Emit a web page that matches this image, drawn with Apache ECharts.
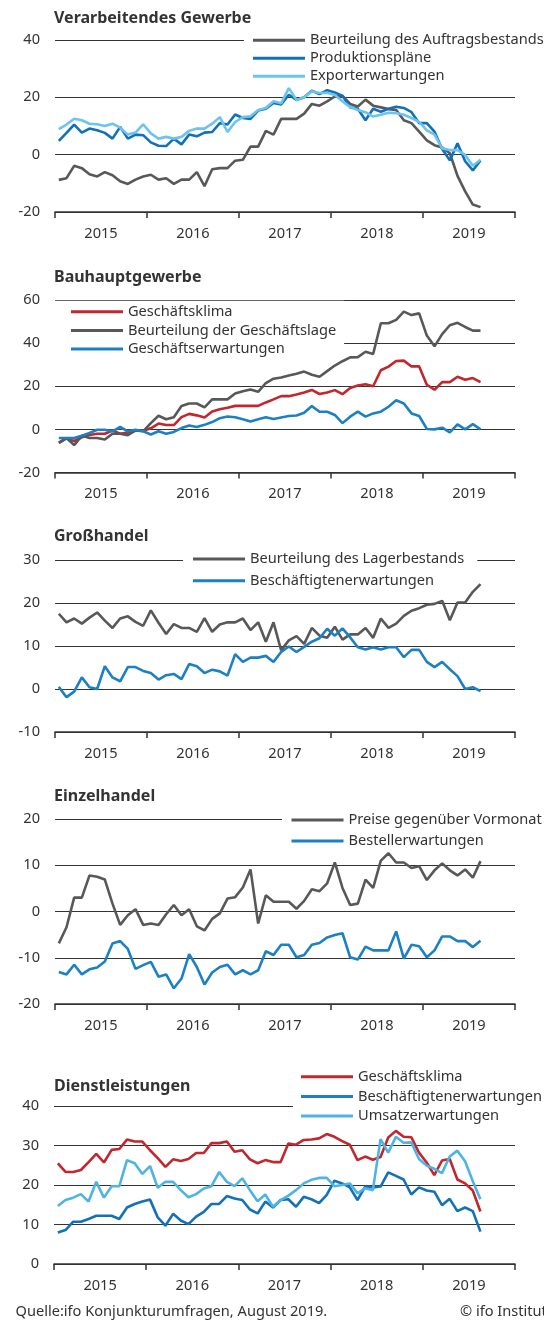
<!DOCTYPE html>
<html><head><meta charset="utf-8">
<script src="https://cdn.jsdelivr.net/npm/echarts@6/dist/echarts.min.js"></script>
<style>html,body{margin:0;padding:0;background:#fff}#c{width:544px;height:1321px}</style>
</head><body><div id="c"></div>
<script>
// ---------- data ----------
const years = ['2015','2016','2017','2018','2019'];
const months = [];
years.forEach(y => { for (let m = 1; m <= 12; m++) months.push(y + '-' + (m < 10 ? '0' + m : m)); });

// Verarbeitendes Gewerbe
const vgAuftrag = [-8.8,-8.2,-3.9,-4.7,-6.8,-7.6,-6.1,-7.2,-9.3,-10.2,-8.7,-7.6,-7.0,-8.7,-8.2,-10.2,-8.7,-8.7,-6.1,-11.0,-5.1,-4.7,-4.7,-2.1,-1.8,2.8,2.8,8.3,7.0,12.5,12.5,12.5,14.3,17.7,17.1,18.6,20.3,20.5,17.7,16.8,19.2,17.1,16.5,15.9,15.6,12.0,11.0,8.0,5.0,3.3,2.5,0.5,-7.4,-12.8,-17.4,-18.3];
const vgProduktion = [4.8,7.6,10.5,7.7,9.1,8.5,7.6,5.6,9.7,5.6,7.0,6.8,4.3,3.1,3.0,5.6,3.6,7.0,6.4,7.7,7.9,11.0,10.5,14.0,12.8,12.5,15.4,16.0,18.0,17.5,20.9,19.1,20.0,22.3,21.1,22.5,21.7,20.5,16.5,16.0,12.0,16.0,15.0,16.0,16.7,16.3,14.8,11.0,11.0,8.0,2.0,-2.0,4.0,-2.3,-5.5,-2.0];
const vgExport = [8.9,10.5,12.5,12.0,10.8,10.6,10.0,10.8,9.4,7.0,7.7,10.6,7.4,5.6,6.2,5.6,6.2,8.3,9.1,9.1,10.8,13.1,7.9,11.4,13.1,13.4,15.6,16.3,18.6,17.9,23.2,19.1,20.0,22.1,21.5,21.6,20.8,18.6,16.6,15.6,14.8,13.3,13.9,14.6,14.5,13.9,12.8,11.4,8.5,7.0,2.2,1.6,1.6,-0.1,-3.9,-1.8];
// Bauhauptgewerbe
const bauKlima = [-6.2,-4.2,-5.4,-3.7,-2.6,-2.0,-2.0,-0.5,-2.0,-1.5,-0.6,-0.6,0.5,2.7,2.0,2.0,5.7,7.2,6.5,5.5,8.3,9.3,10.0,10.9,10.9,10.9,10.9,12.5,13.9,15.4,15.4,16.2,17.1,18.3,16.4,17.1,18.2,16.3,19.2,20.3,20.9,20.0,27.4,29.1,31.7,31.9,29.2,29.2,20.7,18.4,21.9,21.9,24.4,23.0,23.8,21.9];
const bauLage = [-6.3,-4.0,-7.3,-2.9,-4.0,-4.0,-4.7,-2.0,-2.0,-2.7,-0.5,-0.9,2.9,6.3,4.7,5.6,10.8,12.0,12.0,10.2,13.9,13.9,13.9,16.6,17.7,18.5,17.4,21.5,23.5,24.1,25.0,25.8,26.8,25.3,24.4,27.0,29.6,31.6,33.4,33.5,36.0,35.0,49.2,49.2,50.8,54.6,53.0,53.8,43.5,38.5,44.2,48.3,49.4,47.5,45.8,45.8];
const bauErwartung = [-4.0,-4.0,-4.0,-2.9,-1.7,-0.2,-0.2,-0.9,1.1,-0.9,-0.2,-0.9,-2.4,-0.9,-2.0,-1.2,0.6,1.8,1.1,2.1,3.4,5.2,6.0,5.6,4.7,3.7,4.7,5.6,4.8,5.5,6.2,6.4,7.7,10.8,8.2,8.2,6.7,2.9,5.9,8.2,5.9,7.4,8.2,10.5,13.5,12.0,7.4,6.2,0.2,0.0,0.8,-1.4,2.3,0.0,2.4,0.0];
// Großhandel
const ghLager = [17.5,15.5,16.4,15.2,16.6,17.8,15.9,14.2,16.4,16.9,15.6,14.7,18.3,15.4,12.8,15.1,14.2,14.2,13.3,16.5,13.3,15.0,15.5,15.5,16.4,13.7,15.5,11.0,15.5,9.0,11.3,12.3,10.5,14.2,12.4,11.9,14.5,11.5,12.7,12.7,14.2,11.9,16.4,14.2,15.2,17.0,18.2,18.8,19.6,19.8,20.5,16.0,20.1,20.1,22.6,24.4];
const ghBeschaeftigte = [0.5,-1.9,-0.6,2.7,0.4,0.0,5.3,2.7,1.8,5.1,5.1,4.2,3.7,2.2,3.2,3.5,2.3,5.8,5.3,3.7,4.5,4.1,3.1,8.1,6.3,7.3,7.3,7.7,6.3,8.6,9.9,8.6,9.8,11.0,11.8,14.0,12.4,14.1,12.0,9.7,9.2,9.7,9.2,9.7,9.7,7.4,9.1,9.1,6.3,5.1,6.3,4.6,3.0,0.0,0.4,-0.5];
// Einzelhandel
const ehPreise = [-6.9,-3.4,3.0,3.0,7.8,7.5,6.9,1.7,-2.9,-0.8,0.5,-2.9,-2.6,-2.9,-0.6,1.4,-0.8,0.5,-3.2,-4.1,-1.6,-0.4,2.8,3.1,5.2,9.1,-2.6,3.5,2.1,2.1,2.1,0.6,2.3,4.8,4.4,6.1,10.6,5.1,1.4,1.7,6.9,5.1,11.0,12.6,10.6,10.6,9.4,9.8,6.8,8.9,10.4,8.9,7.8,9.1,7.3,10.9];
const ehBestell = [-13.1,-13.6,-11.5,-13.6,-12.5,-12.1,-10.8,-6.9,-6.4,-8.1,-12.4,-11.6,-10.9,-14.1,-13.6,-16.6,-14.5,-9.2,-12.0,-15.8,-13.2,-12.0,-11.5,-13.6,-12.7,-13.6,-12.7,-8.6,-9.4,-7.2,-7.2,-9.9,-9.4,-7.2,-6.8,-5.6,-5.1,-4.7,-9.9,-10.4,-7.6,-8.4,-8.4,-8.4,-4.3,-10.2,-7.2,-7.5,-9.9,-8.4,-5.4,-5.4,-6.4,-6.4,-7.7,-6.3];
// Dienstleistungen
const dlKlima = [25.5,23.3,23.3,23.8,25.8,27.9,25.7,28.9,29.1,31.5,31.0,31.0,28.8,26.8,24.6,26.5,26.1,26.6,28.1,28.1,30.6,30.6,31.0,28.4,28.8,26.5,25.5,26.3,25.8,25.8,30.5,30.2,31.4,31.5,31.8,32.9,32.2,31.1,30.2,26.3,27.2,26.4,27.1,32.0,33.7,32.2,32.1,28.2,25.7,22.5,26.2,26.6,21.4,20.4,18.6,13.3];
const dlBeschaeftigte = [8.0,8.6,10.7,10.7,11.4,12.2,12.2,12.2,11.4,14.3,15.2,15.8,16.3,11.8,9.7,12.7,11.0,10.1,12.0,13.2,15.2,15.2,17.2,16.6,16.2,13.8,12.8,15.8,14.3,16.2,16.4,14.5,17.0,16.4,15.4,17.5,21.1,20.4,19.4,16.2,19.6,19.4,19.6,23.2,22.3,21.4,17.6,19.4,18.6,18.3,14.9,16.5,13.4,14.3,13.4,8.2];
const dlUmsatz = [14.7,16.2,16.8,17.7,15.8,20.8,16.8,19.7,19.7,26.3,25.5,22.8,24.8,19.3,20.8,20.8,18.7,16.9,17.7,19.1,19.7,23.3,20.8,19.7,21.7,18.7,15.9,17.6,14.5,16.2,17.3,18.7,20.4,21.3,21.8,21.8,19.7,20.0,20.4,17.9,19.2,18.7,31.6,28.2,32.2,30.7,30.8,26.6,24.9,24.1,23.0,27.2,28.7,26.0,21.0,16.4];

// ---------- layout / style ----------
const FONT = 'Noto Sans';
const FS = 14.6;
const C = { gray:'#585858', dblue:'#1170b8', lblue:'#6ac4ee', red:'#c1272d', mblue:'#1c80c4', p5dark:'#1371b8', p5light:'#4fb4e4' };

const panels = [
  { title:'Verarbeitendes Gewerbe', titleTop:10.5, top:40, height:172, left:55, min:-20, max:40, interval:20,
    legend:{left:244, top:28.3, pad:[4,10,4,9], gap:2},
    series:[['Beurteilung des Auftragsbestands', vgAuftrag, C.gray], ['Produktionspläne', vgProduktion, C.dblue], ['Exporterwartungen', vgExport, C.lblue]] },
  { title:'Bauhauptgewerbe', titleTop:269.5, top:300, height:172.5, left:55, min:-20, max:60, interval:20,
    legend:{left:50, top:300.7, pad:[3,8,3,21], gap:2.7},
    series:[['Geschäftsklima', bauKlima, C.red], ['Beurteilung der Geschäftslage', bauLage, C.gray], ['Geschäftserwartungen', bauErwartung, C.mblue]] },
  { title:'Großhandel', titleTop:528.5, top:560, height:172, left:55, min:-10, max:30, interval:10,
    legend:{left:183, top:547, pad:[4,13,4,10], gap:5.7},
    series:[['Beurteilung des Lagerbestands', ghLager, C.gray], ['Beschäftigtenerwartungen', ghBeschaeftigte, C.mblue]] },
  { title:'Einzelhandel', titleTop:788.5, top:819, height:185, left:55, min:-20, max:20, interval:10,
    legend:{left:282, top:808, pad:[4,10,4,9.5], gap:5},
    series:[['Preise gegenüber Vormonat', ehPreise, C.gray], ['Bestellerwartungen', ehBestell, C.mblue]] },
  { title:'Dienstleistungen', titleTop:1078.5, top:1106, height:158, left:54, min:0, max:40, interval:10,
    legend:{left:293, top:1064.7, pad:[4,10,4,8], gap:3.7},
    series:[['Geschäftsklima', dlKlima, C.red], ['Beschäftigtenerwartungen', dlBeschaeftigte, C.p5dark], ['Umsatzerwartungen', dlUmsatz, C.p5light]] }
];

const option = { animation:false, backgroundColor:'#fff', title:[], grid:[], xAxis:[], yAxis:[], legend:[], series:[],
  graphic:[
    { type:'text', left:15.5, top:1304, style:{ text:'Quelle:ifo Konjunkturumfragen, August 2019.', font:`${FS}px "${FONT}"`, fill:'#333' } },
    { type:'text', left:460, top:1304, style:{ text:'© ifo Institut', font:`${FS}px "${FONT}"`, fill:'#333' } }
  ] };

panels.forEach((p, k) => {
  option.title.push({ text:p.title, left:54, top:p.titleTop, padding:0,
    textStyle:{ fontFamily:FONT, fontSize:16, fontWeight:'bold', color:'#333' } });
  option.grid.push({ left:p.left, right:29, top:p.top, height:p.height, containLabel:false });
  // visible year axis
  option.xAxis.push({ type:'category', gridIndex:k, data:years, boundaryGap:true, position:'bottom',
    axisLine:{ show:true, onZero:false, lineStyle:{ color:'#333', width:1.5 } },
    axisTick:{ show:true, length:6, lineStyle:{ color:'#333', width:1.5 } },
    axisLabel:{ fontFamily:FONT, fontSize:FS, color:'#333', margin:14 }, splitLine:{ show:false } });
  // hidden month axis for the series
  option.xAxis.push({ type:'category', gridIndex:k, data:months, boundaryGap:true, show:false });
  option.yAxis.push({ type:'value', gridIndex:k, min:p.min, max:p.max, interval:p.interval,
    axisLine:{ show:false }, axisTick:{ show:false },
    axisLabel:{ fontFamily:FONT, fontSize:FS, color:'#333', margin:15 },
    splitLine:{ show:true, lineStyle:{ color:'#333', width:1.2 } } });
  option.legend.push({ orient:'vertical', left:p.legend.left, top:p.legend.top, padding:p.legend.pad,
    itemGap:p.legend.gap, itemWidth:52, itemHeight:3, icon:'rect', backgroundColor:'#fff',
    selectedMode:false, data:p.series.map(s => s[0]), z:4,
    textStyle:{ fontFamily:FONT, fontSize:FS, color:'#333', lineHeight:16 } });
  p.series.forEach(s => {
    option.series.push({ type:'line', name:s[0], data:s[1], xAxisIndex:2*k+1, yAxisIndex:k,
      showSymbol:false, symbol:'none', color:s[2], lineStyle:{ color:s[2], width:2.6 }, z:6 });
  });
});

const chart = echarts.init(document.getElementById('c'), null, { renderer:'canvas' });
chart.setOption(option);
</script></body></html>
